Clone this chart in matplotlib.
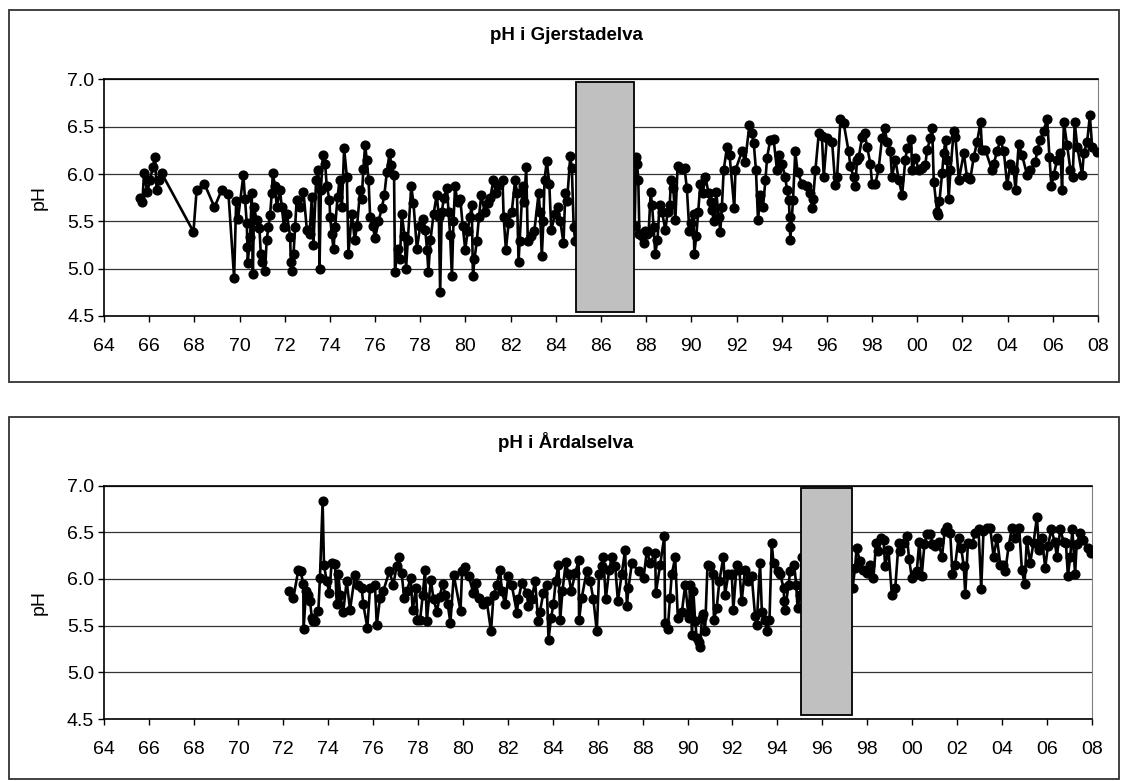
import matplotlib
matplotlib.use("Agg")
import matplotlib.pyplot as plt
from matplotlib.patches import Rectangle

plt.rcParams['font.family'] = ['Liberation Sans', 'DejaVu Sans']

# --- data (year as 19xx, so 100 = 2000) ---
gj_year = [65.59, 65.7, 65.77, 65.92, 66.04, 66.16, 66.26, 66.33, 66.45, 66.55,
           67.96, 68.1, 68.44, 68.89, 69.21, 69.51, 69.76, 69.85, 69.93,
           70.17, 70.24, 70.32, 70.35, 70.36, 70.47, 70.54, 70.59, 70.64, 70.76, 70.88, 70.94,
           71.01, 71.13, 71.2, 71.28, 71.35, 71.43, 71.47, 71.57, 71.65, 71.79, 71.87, 71.97,
           72.09, 72.24, 72.27, 72.31, 72.39, 72.46, 72.53, 72.68, 72.83, 72.98,
           73.1, 73.2, 73.27, 73.39, 73.49, 73.54, 73.6, 73.69, 73.79, 73.86, 73.98,
           74.01, 74.08, 74.16, 74.23, 74.34, 74.43, 74.53, 74.63, 74.75, 74.82, 74.97,
           75.1, 75.2, 75.34, 75.41, 75.48, 75.56, 75.63, 75.71, 75.78, 75.9,
           76.0, 76.15, 76.3, 76.41, 76.52, 76.64, 76.72, 76.84, 76.88,
           77.0, 77.1, 77.18, 77.3, 77.37, 77.45, 77.6, 77.7, 77.85,
           78.0, 78.14, 78.22, 78.3, 78.36, 78.45, 78.59, 78.73, 78.82, 78.88, 78.95,
           79.05, 79.18, 79.25, 79.32, 79.4, 79.47, 79.54, 79.65, 79.77, 79.88, 79.99,
           80.1, 80.2, 80.28, 80.33, 80.4, 80.5, 80.6, 80.7, 80.85,
           81.02, 81.1, 81.24, 81.35, 81.5, 81.64, 81.69, 81.79, 81.91,
           82.05, 82.2, 82.28, 82.35, 82.4, 82.53, 82.6, 82.69, 82.76, 82.9,
           83.05, 83.24, 83.3, 83.38, 83.45, 83.5, 83.6, 83.71, 83.8, 83.97,
           84.1, 84.2, 84.34, 84.42, 84.5, 84.64, 84.71, 84.79, 84.86,
           87.49, 87.55, 87.6, 87.65, 87.7, 87.82, 87.9, 87.96,
           88.05, 88.11, 88.2, 88.26, 88.33, 88.4, 88.5, 88.59, 88.7, 88.85, 88.95,
           89.04, 89.1, 89.2, 89.29, 89.39, 89.5, 89.6, 89.7, 89.8, 89.91,
           90.0, 90.1, 90.13, 90.22, 90.3, 90.4, 90.5, 90.62, 90.76, 90.85, 90.91,
           91.0, 91.1, 91.21, 91.28, 91.35, 91.43, 91.58, 91.69, 91.9, 91.95,
           92.24, 92.38, 92.57, 92.67, 92.76, 92.86, 92.95,
           93.05, 93.17, 93.28, 93.35, 93.49, 93.64, 93.79, 93.9,
           94.0, 94.16, 94.23, 94.31, 94.35, 94.36, 94.38, 94.5, 94.6, 94.7, 94.9,
           95.12, 95.27, 95.34, 95.39, 95.49, 95.64, 95.78, 95.86,
           96.0, 96.23, 96.37, 96.45, 96.6, 96.74, 96.96,
           97.04, 97.18, 97.26, 97.33, 97.41, 97.56, 97.67, 97.78, 97.92,
           98.0, 98.15, 98.29, 98.44, 98.56, 98.66, 98.81, 98.88,
           99.03, 99.18, 99.33, 99.47, 99.55, 99.73, 99.77, 99.92,
           100.06, 100.2, 100.36, 100.43, 100.58, 100.66, 100.73, 100.88, 100.92, 100.98,
           101.1, 101.17, 101.25, 101.32, 101.39, 101.47, 101.61, 101.69, 101.84,
           102.06, 102.2, 102.35, 102.5, 102.65, 102.8, 102.87,
           103.02, 103.31, 103.39, 103.53, 103.68, 103.83, 103.98,
           104.12, 104.27, 104.35, 104.49, 104.64, 104.86,
           105.01, 105.23, 105.31, 105.45, 105.6, 105.75, 105.85, 105.94,
           106.04, 106.19, 106.34, 106.41, 106.49, 106.63, 106.78, 106.88, 106.97,
           107.08, 107.3, 107.37, 107.52, 107.64, 107.74, 107.96]
gj_ph = [5.75, 5.70, 6.01, 5.81, 5.94, 6.07, 6.18, 5.83, 5.94, 6.01,
         5.39, 5.83, 5.90, 5.65, 5.83, 5.79, 4.90, 5.71, 5.52,
         5.99, 5.74, 5.48, 5.23, 5.06, 5.34, 5.80, 4.94, 5.65, 5.51, 5.43, 5.16,
         5.07, 4.98, 5.30, 5.44, 5.57, 5.80, 6.01, 5.87, 5.65, 5.83, 5.65, 5.44,
         5.58, 5.34, 5.07, 4.98, 5.16, 5.44, 5.73, 5.65, 5.81, 5.41,
         5.37, 5.76, 5.25, 5.94, 6.04, 5.00, 5.83, 6.20, 6.11, 5.87, 5.73,
         5.55, 5.37, 5.21, 5.44, 5.76, 5.94, 5.65, 6.27, 5.97, 5.16, 5.58,
         5.30, 5.45, 5.83, 5.74, 6.05, 6.31, 6.15, 5.94, 5.55, 5.45,
         5.32, 5.50, 5.64, 5.78, 6.02, 6.22, 6.10, 5.99, 4.97,
         5.21, 5.10, 5.58, 5.35, 5.00, 5.30, 5.87, 5.69, 5.21,
         5.45, 5.53, 5.41, 5.20, 4.97, 5.30, 5.58, 5.78, 5.55, 4.75, 5.60,
         5.75, 5.85, 5.60, 5.36, 4.92, 5.50, 5.87, 5.70, 5.74, 5.45, 5.20,
         5.40, 5.55, 5.67, 4.92, 5.10, 5.29, 5.55, 5.78, 5.60,
         5.69, 5.75, 5.94, 5.80, 5.88, 5.94, 5.55, 5.20, 5.48,
         5.60, 5.94, 5.80, 5.07, 5.29, 5.87, 5.70, 6.07, 5.29, 5.35,
         5.40, 5.80, 5.60, 5.13, 5.50, 5.94, 6.14, 5.90, 5.41, 5.58,
         5.65, 5.50, 5.27, 5.80, 5.72, 6.19, 6.06, 5.44, 5.29,
         5.45, 6.18, 6.11, 5.94, 5.37, 5.35, 5.27, 5.40,
         5.37, 5.39, 5.81, 5.67, 5.44, 5.16, 5.30, 5.67, 5.60, 5.41, 5.60,
         5.67, 5.94, 5.85, 5.51, 6.08, 6.06, 6.05, 6.06, 5.85, 5.40,
         5.48, 5.58, 5.16, 5.35, 5.60, 5.90, 5.80, 5.97, 5.80, 5.70, 5.62,
         5.50, 5.81, 5.55, 5.39, 5.65, 6.04, 6.29, 6.20, 5.64, 6.04,
         6.24, 6.13, 6.52, 6.43, 6.33, 6.04, 5.51,
         5.78, 5.65, 5.94, 6.17, 6.36, 6.37, 6.04, 6.20,
         6.11, 5.97, 5.83, 5.73, 5.55, 5.44, 5.30, 5.73, 6.24, 6.02, 5.90,
         5.87, 5.80, 5.64, 5.74, 6.04, 6.43, 6.40, 5.97,
         6.38, 6.34, 5.88, 5.97, 6.58, 6.54, 6.24,
         6.08, 5.97, 5.87, 6.15, 6.18, 6.39, 6.43, 6.29, 6.11,
         5.90, 5.90, 6.06, 6.38, 6.49, 6.34, 6.24, 5.97,
         6.15, 5.94, 5.78, 6.15, 6.27, 6.37, 6.04, 6.17,
         6.04, 6.06, 6.10, 6.25, 6.38, 6.49, 5.92, 5.60, 5.57, 5.71,
         6.01, 6.22, 6.36, 6.15, 5.74, 6.04, 6.45, 6.39, 5.94,
         6.22, 5.97, 5.95, 6.18, 6.34, 6.55, 6.25,
         6.25, 6.04, 6.11, 6.24, 6.36, 6.24, 5.88,
         6.11, 6.04, 5.83, 6.32, 6.20, 5.99,
         6.04, 6.13, 6.25, 6.36, 6.46, 6.58, 6.18, 5.87,
         5.99, 6.15, 6.22, 5.83, 6.55, 6.31, 6.04, 5.97, 6.55,
         6.29, 5.99, 6.22, 6.34, 6.62, 6.29, 6.23]

ard_year = [72.27, 72.45, 72.67, 72.77, 72.89, 72.9, 73.01, 73.12, 73.19, 73.27, 73.34, 73.41,
            73.56, 73.63, 73.75, 73.81, 73.93, 74.05, 74.15, 74.3, 74.38, 74.45, 74.53, 74.67,
            74.82, 74.97, 75.19, 75.34, 75.49, 75.56, 75.74, 75.86, 76.08, 76.16, 76.31, 76.45,
            76.72, 76.9, 77.05, 77.15, 77.27, 77.38, 77.5, 77.67, 77.76, 77.91, 77.97,
            78.09, 78.21, 78.31, 78.39, 78.57, 78.69, 78.84, 78.96, 79.1, 79.21, 79.32, 79.44,
            79.59, 79.89, 79.96, 80.07, 80.26, 80.46, 80.57, 80.71, 80.91,
            81.06, 81.25, 81.36, 81.51, 81.65, 81.73, 81.88, 82.02, 82.17, 82.4, 82.47, 82.62,
            82.84, 82.91, 83.06, 83.21, 83.35, 83.43, 83.58, 83.73, 83.81, 83.92,
            84.03, 84.13, 84.25, 84.33, 84.43, 84.58, 84.7, 84.82, 85.0, 85.15, 85.17, 85.29,
            85.51, 85.66, 85.81, 85.96, 86.06, 86.18, 86.25, 86.36, 86.51, 86.63, 86.78, 86.9,
            87.07, 87.22, 87.3, 87.37, 87.52, 87.82, 88.04, 88.19, 88.34, 88.56, 88.59, 88.78,
            88.97, 89.0, 89.12, 89.22, 89.3, 89.45, 89.57, 89.75, 89.9, 90.05,
            90.12, 90.2, 90.26, 90.34, 90.41, 90.49, 90.56, 90.64, 90.71, 90.78, 90.89,
            91.0, 91.12, 91.18, 91.3, 91.42, 91.6, 91.67, 91.82, 91.97, 92.04, 92.19, 92.31,
            92.41, 92.56, 92.71, 92.86, 93.01, 93.08, 93.23, 93.31, 93.46, 93.53, 93.65,
            93.75, 93.83, 94.01, 94.13, 94.28, 94.31, 94.35, 94.5, 94.57, 94.75, 94.84, 94.9,
            95.02, 95.09,
            97.35, 97.46, 97.53, 97.68, 97.83, 97.98, 98.13, 98.28, 98.4, 98.5, 98.61, 98.73,
            98.8, 98.95, 99.1, 99.25, 99.4, 99.47, 99.62, 99.77, 99.87, 99.99,
            100.11, 100.21, 100.32, 100.43, 100.55, 100.66, 100.81, 100.91,
            101.03, 101.18, 101.33, 101.45, 101.55, 101.7, 101.8, 101.92,
            102.07, 102.19, 102.3, 102.37, 102.49, 102.67, 102.81, 102.96,
            103.08, 103.18, 103.33, 103.48, 103.63, 103.78, 103.93,
            104.03, 104.15, 104.3, 104.45, 104.6, 104.77, 104.89,
            105.01, 105.11, 105.26, 105.41, 105.56, 105.66, 105.78, 105.93,
            106.05, 106.2, 106.35, 106.45, 106.6, 106.75, 106.85, 106.94,
            107.04, 107.14, 107.26, 107.33, 107.48, 107.63, 107.82, 107.98]
ard_ph = [5.87, 5.80, 6.10, 6.08, 5.95, 5.46, 5.87, 5.83, 5.76, 5.58, 5.55, 5.55,
          5.66, 6.01, 6.83, 6.15, 5.98, 5.85, 6.17, 6.16, 5.73, 6.05, 5.83, 5.65,
          5.98, 5.67, 6.04, 5.94, 5.90, 5.73, 5.48, 5.90, 5.94, 5.51, 5.80, 5.87,
          6.08, 5.94, 6.14, 6.23, 6.06, 5.80, 5.87, 6.01, 5.67, 5.90, 5.56,
          5.56, 5.83, 6.10, 5.55, 5.99, 5.78, 5.65, 5.81, 5.95, 5.83, 5.73, 5.53,
          6.04, 5.66, 6.08, 6.13, 6.03, 5.85, 5.96, 5.80, 5.73,
          5.76, 5.44, 5.83, 5.94, 6.10, 5.87, 5.73, 6.03, 5.94, 5.64, 5.78, 5.96,
          5.85, 5.71, 5.78, 5.98, 5.55, 5.65, 5.85, 5.94, 5.35, 5.58,
          5.73, 5.98, 6.15, 5.56, 5.87, 6.18, 6.05, 5.87, 6.06, 6.20, 5.56, 5.80,
          6.08, 5.98, 5.78, 5.44, 6.05, 6.14, 6.24, 5.78, 6.10, 6.23, 6.14, 5.76,
          6.05, 6.31, 5.71, 5.90, 6.17, 6.08, 6.01, 6.30, 6.17, 6.28, 5.85, 6.15,
          6.46, 5.53, 5.46, 5.80, 6.05, 6.23, 5.58, 5.65, 5.94, 5.58,
          5.94, 5.40, 5.87, 5.55, 5.37, 5.33, 5.27, 5.58, 5.62, 5.44, 6.15,
          6.14, 6.05, 5.56, 5.69, 5.98, 6.24, 5.83, 6.05, 6.05, 5.67, 6.15, 6.10,
          5.76, 6.10, 5.98, 6.03, 5.60, 5.51, 6.17, 5.65, 5.56, 5.44, 5.56,
          6.38, 6.17, 6.08, 6.05, 5.90, 5.76, 5.67, 5.94, 6.08, 6.15, 5.94, 5.69,
          5.83, 6.24,
          5.90, 6.12, 6.33, 6.19, 6.10, 6.06, 6.15, 6.01, 6.39, 6.30, 6.44, 6.42,
          6.14, 6.31, 5.83, 5.90, 6.39, 6.30, 6.39, 6.46, 6.21, 6.01,
          6.05, 6.08, 6.40, 6.03, 6.37, 6.48, 6.48, 6.37,
          6.35, 6.40, 6.23, 6.51, 6.56, 6.49, 6.05, 6.15,
          6.44, 6.33, 6.14, 5.84, 6.39, 6.37, 6.49, 6.53,
          5.89, 6.51, 6.55, 6.55, 6.24, 6.44, 6.15,
          6.15, 6.08, 6.35, 6.55, 6.44, 6.55, 6.10,
          5.95, 6.42, 6.17, 6.39, 6.66, 6.31, 6.44, 6.12,
          6.35, 6.53, 6.40, 6.24, 6.53, 6.40, 6.39, 6.03,
          6.23, 6.53, 6.05, 6.37, 6.49, 6.42, 6.33, 6.28]

# periods covered by the grey boxes
gj_box = (84.9, 87.46)
ard_box = (95.07, 97.33)

x_ticks = list(range(64, 109, 2))
x_labels = ['%02d' % (t % 100) for t in x_ticks]
y_ticks = [4.5, 5.0, 5.5, 6.0, 6.5, 7.0]

W, H = 1121, 781
fig = plt.figure(figsize=(W / 100, H / 100), dpi=100)


def px(x0, y0, x1, y1):
    # pixel box -> figure fraction [left, bottom, width, height]
    return [x0 / W, 1 - y1 / H, (x1 - x0) / W, (y1 - y0) / H]


def panel(rect, frame, title, title_y, years, ph, box):
    # outer frame around the chart
    fx0, fy0, fx1, fy1 = frame
    fig.add_artist(Rectangle((fx0 / W, 1 - fy1 / H), (fx1 - fx0) / W, (fy1 - fy0) / H,
                             transform=fig.transFigure, fill=False,
                             edgecolor='#333333', linewidth=1.3))
    ax = fig.add_axes(px(*rect))
    ax.plot(years, ph, '-o', color='black', markersize=6.3, linewidth=1.9, zorder=3)
    ax.add_patch(Rectangle((box[0], 4.545), box[1] - box[0], 6.975 - 4.545,
                           facecolor='#c0c0c0', edgecolor='black', linewidth=1.3,
                           zorder=4))
    ax.set_xlim(64, 108)
    ax.set_ylim(4.5, 7.0)
    ax.set_xticks(x_ticks)
    ax.set_xticklabels(x_labels)
    ax.set_yticks(y_ticks)
    ax.set_yticklabels(['%.1f' % v for v in y_ticks])
    ax.yaxis.grid(True, color='#333333', linewidth=0.9)
    ax.set_axisbelow(True)
    ax.tick_params(axis='x', direction='out', length=4, width=1, pad=12, labelsize=14)
    ax.tick_params(axis='y', direction='out', length=4, width=1, pad=3, labelsize=14)
    ax.spines['right'].set_color('#808080')
    for s in ['left', 'bottom', 'top']:
        ax.spines[s].set_linewidth(1.2)
    cy = (rect[1] + rect[3]) / 2
    fig.text(39 / W, 1 - cy / H, 'pH', rotation=90, ha='center', va='center', fontsize=14)
    fig.text(566 / W, 1 - title_y / H, title, ha='center', va='center',
             fontsize=13.5, fontweight='bold')
    return ax


panel((104, 79.4, 1098, 316), (8.5, 10, 1119, 382), 'pH i Gjerstadelva', 36,
      gj_year, gj_ph, gj_box)
panel((103.7, 485.6, 1091.7, 719), (8.5, 417, 1119, 779), 'pH i Årdalselva', 442,
      ard_year, ard_ph, ard_box)

fig.savefig('out.png', dpi=100)
